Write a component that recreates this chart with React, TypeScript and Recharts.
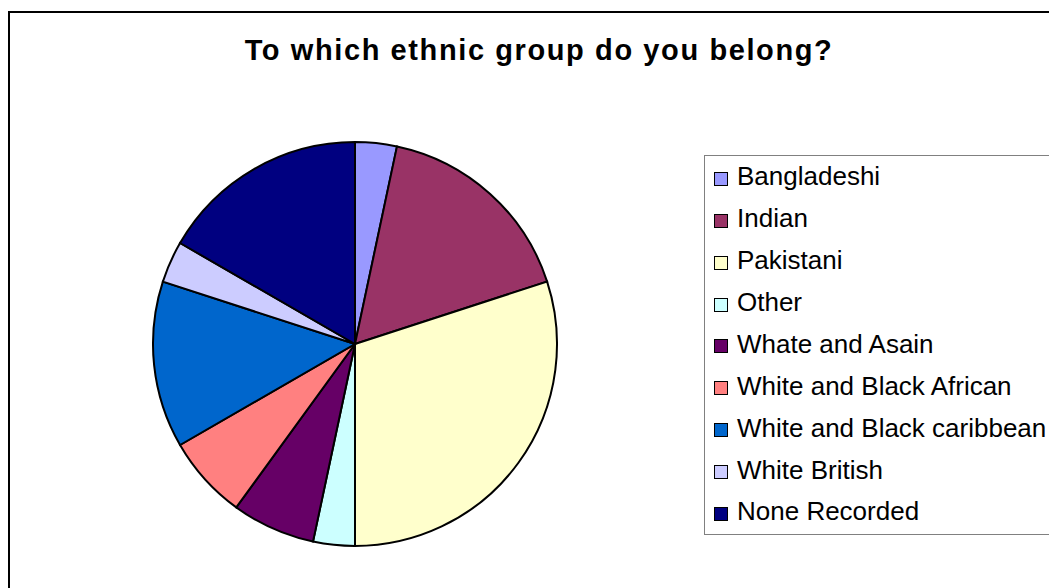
import { PieChart, Pie, Cell, Legend } from 'recharts';

// Ethnic group counts (slices of 30)
const groups = [
  'Bangladeshi',
  'Indian',
  'Pakistani',
  'Other',
  'Whate and Asain',
  'White and Black African',
  'White and Black caribbean',
  'White British',
  'None Recorded',
];
const counts = [1, 5, 9, 1, 2, 2, 4, 1, 5];
const colors = ['#9999FF', '#993366', '#FFFFCC', '#CCFFFF', '#660066', '#FF8080', '#0066CC', '#CCCCFF', '#000080'];

const data = groups.map((name, i) => ({ name, value: counts[i] }));

const font = '"Liberation Sans", Arial, sans-serif';

const renderLegend = () => (
  <div style={{ paddingTop: 0, paddingLeft: 9 }}>
    {groups.map((name, i) => (
      <div key={name} style={{ display: 'flex', alignItems: 'center', height: 41.875 }}>
        <span
          style={{
            display: 'inline-block',
            width: 12,
            height: 12,
            background: colors[i],
            border: '1.5px solid #000',
            marginRight: 9,
            marginTop: 4,
            flexShrink: 0,
          }}
        />
        <span style={{ fontFamily: font, fontSize: 26, color: '#000', whiteSpace: 'nowrap' }}>{name}</span>
      </div>
    ))}
  </div>
);

const App = () => {
  return (
    <div style={{ position: 'absolute', left: 0, top: 0, width: 1049, height: 588, overflow: 'hidden', background: '#fff' }}>
      <div
        style={{
          position: 'absolute',
          left: 8,
          top: 11,
          width: 1100,
          height: 650,
          border: '2px solid #000',
        }}
      />
      <div
        style={{
          position: 'absolute',
          left: 0,
          width: 1078,
          top: 36,
          textAlign: 'center',
          fontFamily: font,
          fontWeight: 'bold',
          fontSize: 29,
          lineHeight: 1,
          letterSpacing: 1.6,
          color: '#000',
        }}
      >
        To which ethnic group do you belong?
      </div>
      <div style={{ position: 'absolute', left: 0, top: 0 }}>
        <PieChart width={1049} height={588} margin={{ top: 0, right: 0, bottom: 0, left: 0 }}>
          <Pie
            data={data}
            dataKey="value"
            nameKey="name"
            cx={355}
            cy={344}
            outerRadius={202}
            startAngle={90}
            endAngle={-270}
            stroke="#000"
            strokeWidth={2}
            isAnimationActive={false}
          >
            {data.map((entry, i) => (
              <Cell key={`cell-${entry.name}`} fill={colors[i]} />
            ))}
          </Pie>
          <Legend
            content={renderLegend}
            wrapperStyle={{
              position: 'absolute',
              left: 704,
              top: 155,
              width: 400,
              height: 378,
              border: '1px solid #808080',
              background: '#fff',
            }}
          />
        </PieChart>
      </div>
    </div>
  );
};

export default App;
